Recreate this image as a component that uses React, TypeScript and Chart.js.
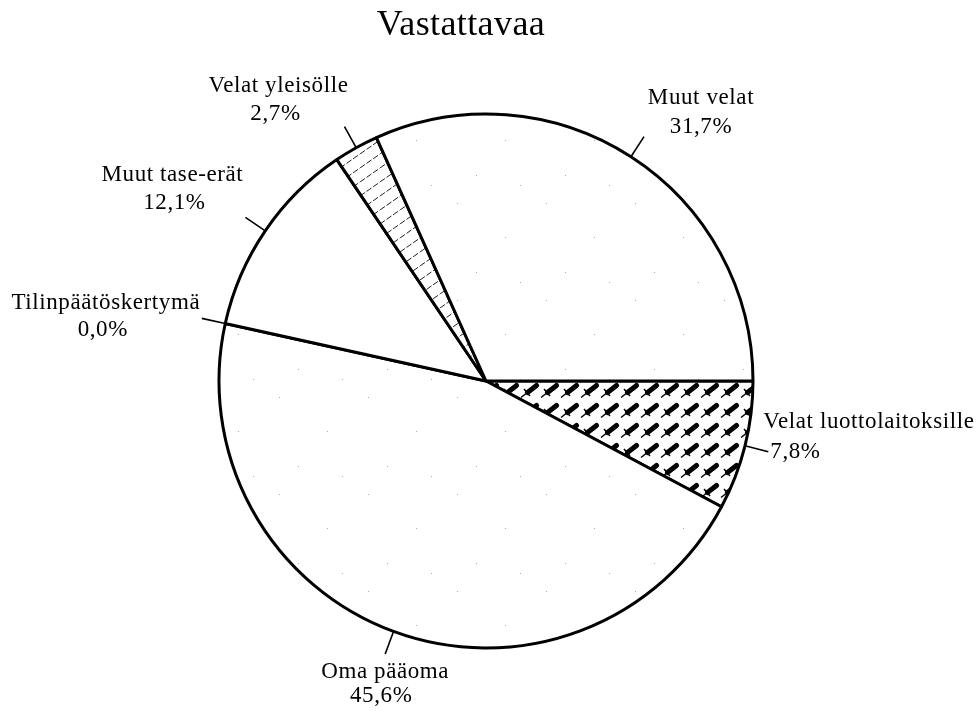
import React, { useEffect, useRef } from "react";
import { Chart, registerables } from "chart.js";

Chart.register(...registerables);

// ---- data ----
const TITLE = "Vastattavaa";
const categories = [
  "Velat luottolaitoksille",
  "Oma pääoma",
  "Tilinpäätöskertymä",
  "Muut tase-erät",
  "Velat yleisölle",
  "Muut velat",
];
const shares = [7.8, 45.6, 0.0, 12.1, 2.7, 31.7];

// ---- layout / style (not data) ----
const W = 979;
const H = 711;
const FONT = "'Liberation Serif', 'Times New Roman', serif";
const LEADER = 24;
const LABEL_LAYOUT: { align: CanvasTextAlign; dx1: number; dy1: number; dx2: number; dy2: number }[] = [
  { align: "left", dx1: -5, dy1: -24, dx2: 2, dy2: 6 },
  { align: "center", dx1: 0, dy1: 24, dx2: -4, dy2: 48 },
  { align: "center", dx1: -96, dy1: -9, dx2: -99, dy2: 18 },
  { align: "center", dx1: -73, dy1: -36, dx2: -71, dy2: -8 },
  { align: "center", dx1: -66, dy1: -35, dx2: -69, dy2: -7 },
  { align: "center", dx1: 57, dy1: -33, dx2: 57, dy2: -4 },
];

const fmt = (v: number) => v.toFixed(1).replace(".", ",") + "%";

function makeTile(w: number, h: number, draw: (c: CanvasRenderingContext2D) => void): CanvasPattern | string {
  const cv = document.createElement("canvas");
  cv.width = w;
  cv.height = h;
  const c = cv.getContext("2d");
  if (!c) return "#fff";
  c.fillStyle = "#fff";
  c.fillRect(0, 0, w, h);
  draw(c);
  const ctx = document.createElement("canvas").getContext("2d");
  return (ctx && ctx.createPattern(cv, "repeat")) || "#fff";
}

function brickPattern() {
  return makeTile(20, 20, (c) => {
    c.strokeStyle = "#000";
    // thick blade
    c.lineCap = "round";
    c.lineWidth = 5;
    c.beginPath();
    c.moveTo(7.5, 12.5);
    c.lineTo(16.5, 5.5);
    c.stroke();
    // thin handle
    c.lineCap = "butt";
    c.lineWidth = 1.5;
    c.beginPath();
    c.moveTo(1, 17.5);
    c.lineTo(8, 12);
    c.stroke();
    // cross guard
    c.beginPath();
    c.moveTo(4, 9);
    c.lineTo(10, 16);
    c.stroke();
  });
}

function hatchPattern() {
  return makeTile(20, 14, (c) => {
    c.strokeStyle = "#222";
    c.lineWidth = 1;
    c.setLineDash([6, 2]);
    for (const off of [-20, 0, 20]) {
      c.beginPath();
      c.moveTo(off, 14);
      c.lineTo(off + 20, 0);
      c.stroke();
    }
  });
}

function dotPattern() {
  return makeTile(89, 97, (c) => {
    c.fillStyle = "#aaa";
    c.fillRect(12, 9, 1, 1);
    c.fillRect(60, 43, 1, 1);
    c.fillRect(31, 78, 1, 1);
    c.fillRect(75, 88, 1, 1);
  });
}

export default function App() {
  const ref = useRef<HTMLCanvasElement | null>(null);

  useEffect(() => {
    document.body.style.margin = "0";
    const canvas = ref.current;
    if (!canvas) return;

    const fills = [brickPattern(), dotPattern(), "#ffffff", "#ffffff", hatchPattern(), dotPattern()];

    const labelPlugin = {
      id: "pieLabels",
      afterDatasetsDraw(chart: any) {
        const ctx: CanvasRenderingContext2D = chart.ctx;
        const meta = chart.getDatasetMeta(0);
        ctx.save();
        ctx.fillStyle = "#000";
        ctx.strokeStyle = "#000";
        // title
        (ctx as any).letterSpacing = "0.4px";
        ctx.font = `36px ${FONT}`;
        ctx.textAlign = "center";
        ctx.textBaseline = "alphabetic";
        ctx.fillText(TITLE, 461, 35);

        (ctx as any).letterSpacing = "0.6px";
        ctx.font = `23px ${FONT}`;
        meta.data.forEach((arc: any, i: number) => {
          const p = arc.getProps(["x", "y", "startAngle", "endAngle", "outerRadius"], true);
          const mid = (p.startAngle + p.endAngle) / 2;
          const cx = Math.cos(mid);
          const sy = Math.sin(mid);
          const x1 = p.x + cx * p.outerRadius;
          const y1 = p.y + sy * p.outerRadius;
          const x2 = p.x + cx * (p.outerRadius + LEADER);
          const y2 = p.y + sy * (p.outerRadius + LEADER);
          ctx.lineWidth = 1.6;
          ctx.beginPath();
          ctx.moveTo(x1, y1);
          ctx.lineTo(x2, y2);
          ctx.stroke();
          const L = LABEL_LAYOUT[i];
          ctx.textAlign = L.align;
          ctx.fillText(categories[i], x2 + L.dx1, y2 + L.dy1);
          ctx.fillText(fmt(shares[i]), x2 + L.dx2, y2 + L.dy2);
        });
        ctx.restore();
      },
    };

    const chart = new Chart(canvas, {
      type: "pie",
      data: {
        labels: categories,
        datasets: [
          {
            data: shares,
            backgroundColor: fills as any,
            borderColor: "#000",
            borderWidth: 3,
            hoverOffset: 0,
          },
        ],
      },
      options: {
        responsive: false,
        animation: false,
        rotation: 90,
        radius: 267,
        layout: { padding: { left: 219, right: 226, top: 114, bottom: 63 } },
        plugins: {
          legend: { display: false },
          tooltip: { enabled: false },
          title: { display: false },
        },
        events: [],
      } as any,
      plugins: [labelPlugin],
    });

    return () => chart.destroy();
  }, []);

  return (
    <div style={{ width: W, height: H, background: "#fff" }}>
      <canvas ref={ref} width={W} height={H} style={{ display: "block", width: W, height: H }} />
    </div>
  );
}
